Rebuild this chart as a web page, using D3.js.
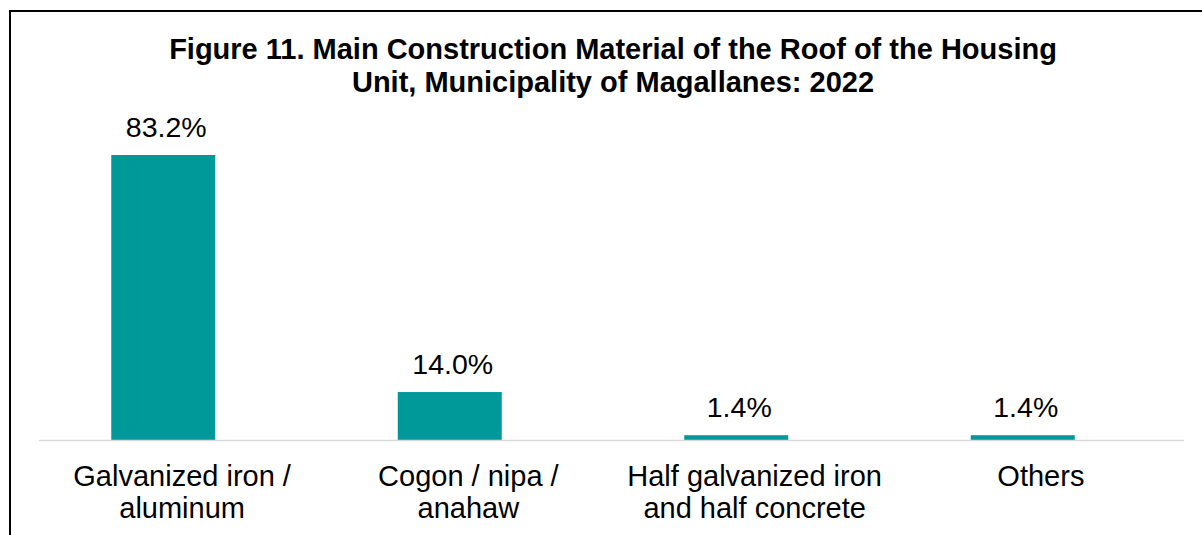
<!DOCTYPE html>
<html>
<head>
<meta charset="utf-8">
<script src="https://cdn.jsdelivr.net/npm/d3@7"></script>
<style>
	body { margin: 0; background: #fff; }
	text { font-family: "Liberation Sans", Arial, sans-serif; fill: #000; }
</style>
</head>
<body>
<svg id="chart" width="1202" height="535"></svg>
<script>
// data
var categories = [
	["Galvanized iron /", "aluminum"],
	["Cogon / nipa /", "anahaw"],
	["Half galvanized iron", "and half concrete"],
	["Others"]
];
var values = [83.2, 14.0, 1.4, 1.4];
var titleLines = [
	"Figure 11. Main Construction Material of the Roof of the Housing",
	"Unit, Municipality of Magallanes: 2022"
];

var svg = d3.select("#chart");
var W = 1202, H = 535;
// bars sit a little left of the axis span, the category labels follow the axis
var plot = { left: 20, right: 1166, base: 440, axisL: 39, axisR: 1184 };

svg.append("rect").attr("width", W).attr("height", H).attr("fill", "#fff");

// frame: top and left edges only are visible in the crop
svg.append("line")
	.attr("x1", 10).attr("y1", 11).attr("x2", W).attr("y2", 11)
	.attr("stroke", "#000").attr("stroke-width", 2);
svg.append("line")
	.attr("x1", 10).attr("y1", 10).attr("x2", 10).attr("y2", H)
	.attr("stroke", "#000").attr("stroke-width", 2);

var x = d3.scaleBand()
	.domain(d3.range(values.length))
	.range([plot.left, plot.right])
	.paddingInner(0.637)
	.paddingOuter(0.3185);

var xLab = d3.scaleBand()
	.domain(d3.range(values.length))
	.range([plot.axisL, plot.axisR]);

var y = d3.scaleLinear()
	.domain([0, 83.2])
	.range([plot.base, 155]);

// title
svg.append("text")
	.attr("x", 613).attr("y", 59)
	.attr("text-anchor", "middle")
	.style("font-size", "29px").style("font-weight", "bold")
	.selectAll("tspan").data(titleLines).enter()
	.append("tspan")
		.attr("x", 613)
		.attr("dy", function(d, i){ return i ? 33 : 0; })
		.text(function(d){ return d; });

// bars
svg.append("g").selectAll("rect").data(values).enter()
	.append("rect")
		.attr("x", function(d, i){ return x(i); })
		.attr("y", function(d){ return y(d); })
		.attr("width", x.bandwidth())
		.attr("height", function(d){ return plot.base - y(d); })
		.attr("fill", "#009999");

// baseline
svg.append("line")
	.attr("x1", plot.axisL).attr("x2", plot.axisR)
	.attr("y1", plot.base + 0.5).attr("y2", plot.base + 0.5)
	.attr("stroke", "#d9d9d9").attr("stroke-width", 1.5);

// value labels
svg.append("g").selectAll("text").data(values).enter()
	.append("text")
		.attr("x", function(d, i){ return x(i) + x.bandwidth()/2 + 3; })
		.attr("y", function(d){ return y(d) - 18; })
		.attr("text-anchor", "middle")
		.style("font-size", "28.5px")
		.text(function(d){ return d.toFixed(1) + "%"; });

// category labels
var cat = svg.append("g").selectAll("text").data(categories).enter()
	.append("text")
		.attr("text-anchor", "middle")
		.attr("y", 486)
		.style("font-size", "29px");
cat.selectAll("tspan").data(function(d, i){ return d.map(function(t){ return { t: t, i: i }; }); })
	.enter().append("tspan")
		.attr("x", function(d){ return xLab(d.i) + xLab.bandwidth()/2; })
		.attr("dy", function(d, j){ return j ? 32 : 0; })
		.text(function(d){ return d.t; });
</script>
</body>
</html>
